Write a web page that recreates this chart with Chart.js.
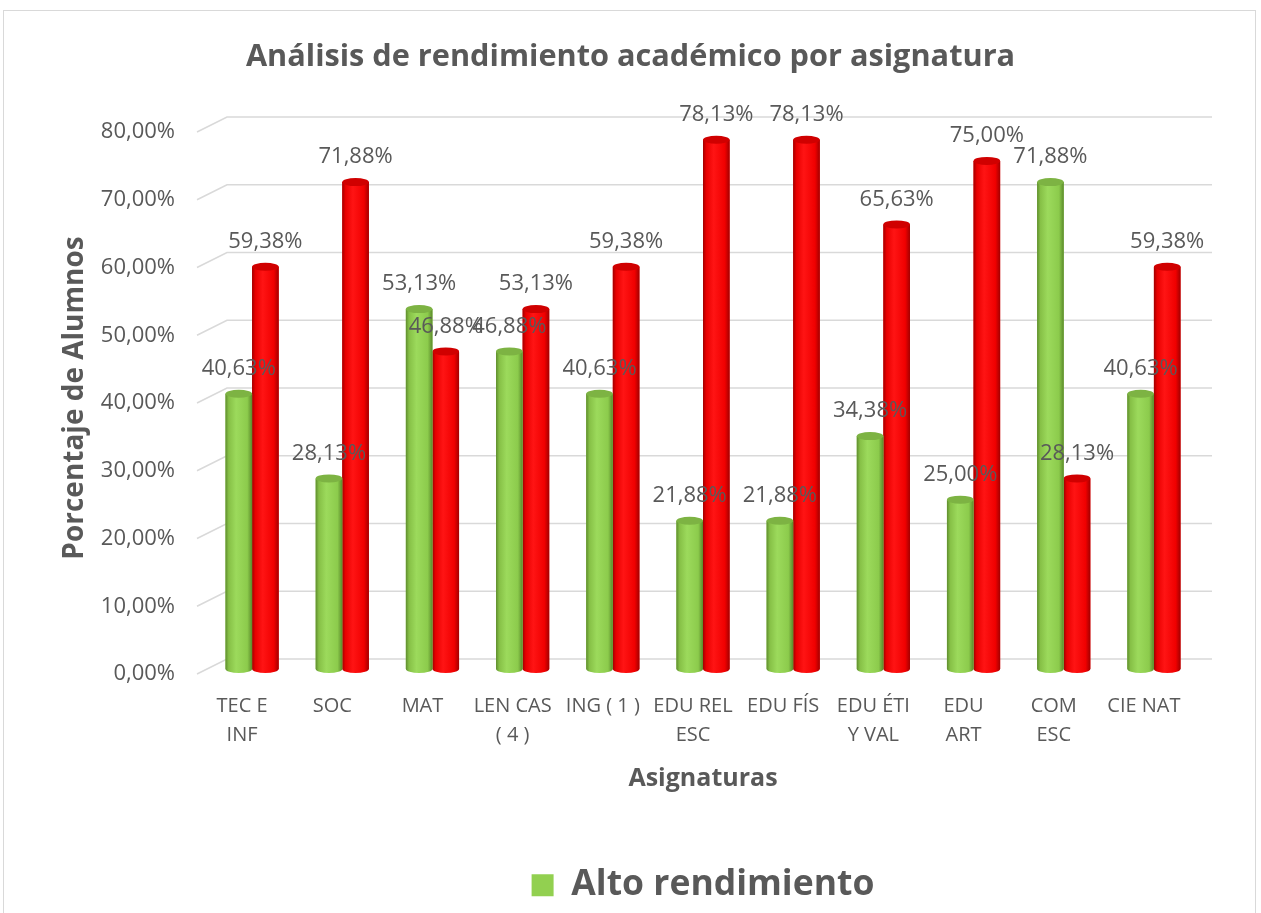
<!DOCTYPE html>
<html>
<head>
<meta charset="utf-8">
<script src="https://cdn.jsdelivr.net/npm/chart.js@4/dist/chart.umd.min.js"></script>
<style>
  html, body { margin: 0; padding: 0; background: #ffffff; overflow: hidden; }
  #wrap { position: absolute; left: 0; top: 0; width: 1261px; height: 913px; }
  #frame { position: absolute; left: 3px; top: 10px; width: 1253px; height: 960px; border: 1.5px solid #d9d9d9; box-sizing: border-box; }
</style>
</head>
<body>
<div id="frame"></div>
<div id="wrap"><canvas id="c"></canvas></div>
<script>
// ---- data ----
const categories = [["TEC E", "INF"], ["SOC"], ["MAT"], ["LEN CAS", "( 4 )"], ["ING ( 1 )"], ["EDU REL", "ESC"], ["EDU FÍS"], ["EDU ÉTI", "Y VAL"], ["EDU", "ART"], ["COM", "ESC"], ["CIE NAT"]];
const seriesNames = ["Alto rendimiento", "Bajo rendimiento"];
const altoRendimiento = [40.63, 28.13, 53.13, 46.88, 40.63, 21.88, 21.88, 34.38, 25.00, 71.88, 40.63];
const bajoRendimiento = [59.38, 71.88, 46.88, 53.13, 59.38, 78.13, 78.13, 65.63, 75.00, 28.13, 59.38];
const yTicks = [0, 10, 20, 30, 40, 50, 60, 70, 80];

const TEXT = '#595959';
const FONT = "'Open Sans', 'Noto Sans', sans-serif";
Chart.defaults.font.family = FONT;
Chart.defaults.color = TEXT;

const fmt = v => v.toFixed(2).replace('.', ',') + '%';

const palettes = [
  { base: '#92D050', stops: ['#5f8d2e', '#86c046', '#9cda5c', '#8ccb4c', '#5b8a2b'], cap: '#7db343' },
  { base: '#FF0000', stops: ['#a00000', '#e80000', '#ff1414', '#f00000', '#a20000'], cap: '#d00000' }
];

// back-wall gridlines with 3D floor offset
const wallGrid = {
  id: 'wallGrid',
  beforeDatasetsDraw(chart) {
    const { ctx, chartArea, scales: { y } } = chart;
    ctx.save();
    ctx.strokeStyle = '#d9d9d9';
    ctx.lineWidth = 1.5;
    yTicks.forEach(t => {
      const fy = y.getPixelForValue(t);
      ctx.beginPath();
      ctx.moveTo(chartArea.left - 10, fy + 5);
      ctx.lineTo(chartArea.left + 20, fy - 10);
      ctx.lineTo(chartArea.right + 13, fy - 10);
      ctx.stroke();
    });
    ctx.restore();
  }
};

// cylinder shading over library bars
const cylinders = {
  id: 'cylinders',
  afterDatasetDraw(chart, args) {
    const { ctx } = chart;
    const pal = palettes[args.index];
    ctx.save();
    args.meta.data.forEach(el => {
      const { x, y, base, width } = el.getProps(['x', 'y', 'base', 'width'], true);
      const l = x - width / 2, r = x + width / 2, ry = 4;
      const g = ctx.createLinearGradient(l, 0, r, 0);
      g.addColorStop(0, pal.stops[0]);
      g.addColorStop(0.12, pal.stops[1]);
      g.addColorStop(0.4, pal.stops[2]);
      g.addColorStop(0.82, pal.stops[3]);
      g.addColorStop(1, pal.stops[4]);
      ctx.fillStyle = g;
      ctx.beginPath();
      ctx.moveTo(l, y);
      ctx.lineTo(l, base);
      ctx.ellipse(x, base, width / 2, ry, 0, Math.PI, 0, true);
      ctx.lineTo(r, y);
      ctx.closePath();
      ctx.fill();
      ctx.fillStyle = pal.cap;
      ctx.beginPath();
      ctx.ellipse(x, y, width / 2, ry, 0, 0, Math.PI * 2);
      ctx.fill();
    });
    ctx.restore();
  }
};

// value labels
const valueLabels = {
  id: 'valueLabels',
  afterDatasetsDraw(chart) {
    const { ctx } = chart;
    ctx.save();
    ctx.font = "22px " + FONT;
    ctx.fillStyle = TEXT;
    ctx.textAlign = 'center';
    ctx.textBaseline = 'middle';
    chart.data.datasets.forEach((ds, di) => {
      chart.getDatasetMeta(di).data.forEach((el, i) => {
        const { x, y } = el.getProps(['x', 'y'], true);
        ctx.fillText(fmt(ds.data[i]), x, y - 25);
      });
    });
    ctx.restore();
  }
};

new Chart(document.getElementById('c'), {
  type: 'bar',
  data: {
    labels: categories,
    datasets: [
      { label: seriesNames[0], data: altoRendimiento, backgroundColor: palettes[0].base, borderWidth: 0 },
      { label: seriesNames[1], data: bajoRendimiento, backgroundColor: palettes[1].base, borderWidth: 0 }
    ]
  },
  options: {
    responsive: true,
    maintainAspectRatio: false,
    animation: false,
    layout: { padding: { left: 0, right: 0, top: 0, bottom: 0 } },
    datasets: { bar: { categoryPercentage: 0.59, barPercentage: 1.0 } },
    plugins: {
      title: {
        display: true,
        text: 'Análisis de rendimiento académico por asignatura',
        color: TEXT,
        font: { size: 30.7, weight: 'bold', family: FONT, lineHeight: 1.2 },
        padding: { top: 38.6, bottom: 51.6 }
      },
      legend: {
        position: 'bottom',
        fullSize: false,
        labels: {
          filter: item => item.datasetIndex === 0,
          boxWidth: 22,
          boxHeight: 22,
          padding: 10,
          color: TEXT,
          font: { size: 35.5, weight: 'bold', family: FONT }
        }
      },
      tooltip: { enabled: false }
    },
    scales: {
      x: {
        grid: { display: false, drawTicks: false },
        border: { display: false },
        ticks: {
          color: TEXT,
          font: { size: 20, family: FONT, lineHeight: 1.45 },
          padding: 23,
          labelOffset: -10,
          maxRotation: 0,
          minRotation: 0,
          autoSkip: false
        },
        title: {
          display: true,
          text: 'Asignaturas',
          color: TEXT,
          font: { size: 25, weight: 'bold', family: FONT, lineHeight: 1.2 },
          padding: { top: 0, bottom: 63.5 }
        },
        afterFit(scale) { scale.height = 188.5; }
      },
      y: {
        min: 0,
        max: 80,
        grid: { display: false, drawTicks: false },
        border: { display: false },
        afterBuildTicks(scale) { scale.ticks = yTicks.map(v => ({ value: v })); },
        ticks: {
          color: TEXT,
          font: { size: 22, family: FONT },
          padding: 32,
          labelOffset: 5,
          callback: v => fmt(v)
        },
        title: {
          display: true,
          text: 'Porcentaje de Alumnos',
          color: TEXT,
          font: { size: 28, weight: 'bold', family: FONT, lineHeight: 1.2 },
          padding: { top: 58, bottom: 0 }
        },
        afterFit(scale) { scale.width = 207; }
      },
      yRight: {
        type: 'linear',
        position: 'right',
        min: 0,
        max: 80,
        grid: { display: false, drawTicks: false },
        border: { display: false },
        ticks: { display: false },
        afterFit(scale) { scale.width = 62; }
      }
    }
  },
  plugins: [wallGrid, cylinders, valueLabels]
});
</script>
</body>
</html>
